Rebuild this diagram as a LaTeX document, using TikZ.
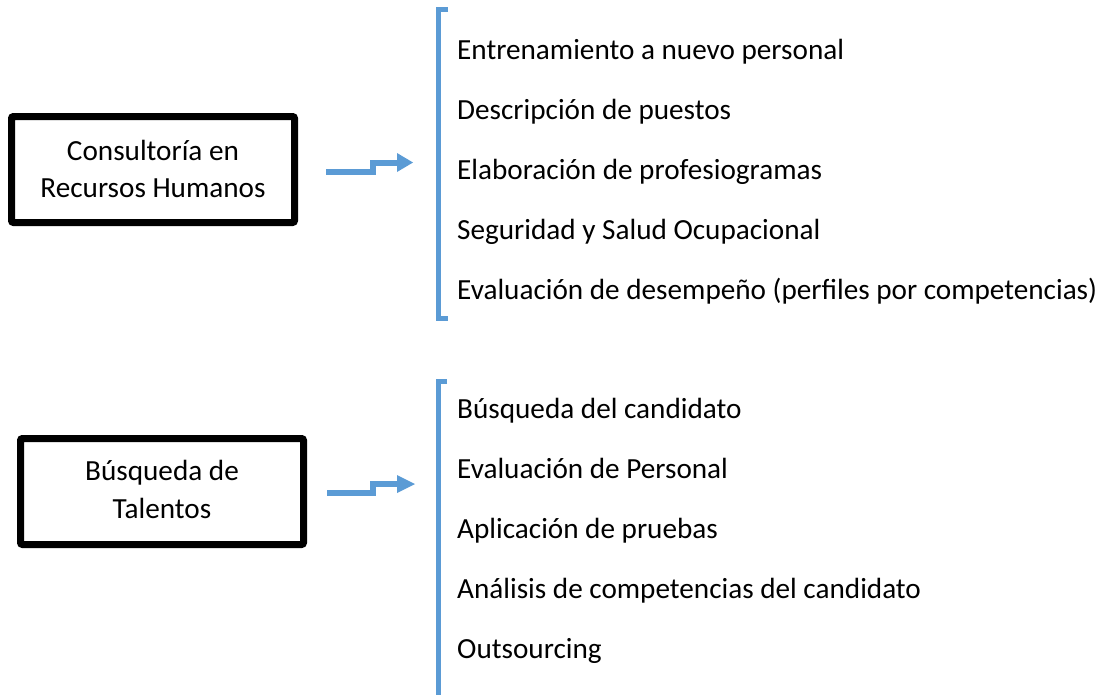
\documentclass[tikz,border=0pt]{standalone}
\usepackage{fontspec}
\setmainfont{Carlito}
\definecolor{accent}{HTML}{5B9BD5}
\begin{document}
\begin{tikzpicture}[x=1pt,y=-1pt,
  box/.style={draw=black,line width=7pt,rounded corners=2pt},
  txt/.style={inner sep=0pt,anchor=base west,font=\fontsize{29.2}{35}\selectfont},
  boxtxt/.style={inner sep=0pt,anchor=base,font=\fontsize{29.2}{35}\selectfont},
  brk/.style={draw=accent,line width=5pt},
  shaft/.style={draw=accent,line width=6pt},
  head/.style={fill=accent,draw=none}]
\useasboundingbox (0,0) rectangle (1108,694);
% boxes
\draw[box] (11.5,116.5) rectangle (294.5,222.5);
\node[boxtxt] (b1a) at (153,160) {Consultoría en};
\node[boxtxt] (b1b) at (153,197) {Recursos Humanos};
\draw[box] (20.5,438.5) rectangle (303.5,544.5);
\node[boxtxt] (b2a) at (162,480) {Búsqueda de};
\node[boxtxt] (b2b) at (162,518) {Talentos};
% arrows
\coordinate (a1s) at (326,172);
\coordinate (a1e) at (398,163);
\draw[shaft] (a1s) -- (373,172) -- (373,163) -- (a1e);
\fill[accent] (397,153) -- (413,162.5) -- (397,172) -- cycle;
\coordinate (a2s) at (327,493);
\coordinate (a2e) at (398,484);
\draw[shaft] (a2s) -- (373,493) -- (373,484) -- (a2e);
\fill[accent] (397,475) -- (415,484) -- (397,493) -- cycle;
% brackets
\draw[brk] (448,9) -- (438,9) -- (438,318) -- (448,318);
\draw[brk] (447,381) -- (438,381) -- (438,700);
% list 1
\node[txt] (l1) at (457,59) {Entrenamiento a nuevo personal};
\node[txt] (l2) at (457,119) {Descripción de puestos};
\node[txt] (l3) at (457,179) {Elaboración de profesiogramas};
\node[txt] (l4) at (457,239) {Seguridad y Salud Ocupacional};
\node[txt] (l5) at (457,299) {Evaluación de desempeño (perfiles por competencias)};
% list 2
\node[txt] (m1) at (457,418) {Búsqueda del candidato};
\node[txt] (m2) at (457,478) {Evaluación de Personal};
\node[txt] (m3) at (457,538) {Aplicación de pruebas};
\node[txt] (m4) at (457,598) {Análisis de competencias del candidato};
\node[txt] (m5) at (457,658) {Outsourcing};
\end{tikzpicture}
\end{document}
